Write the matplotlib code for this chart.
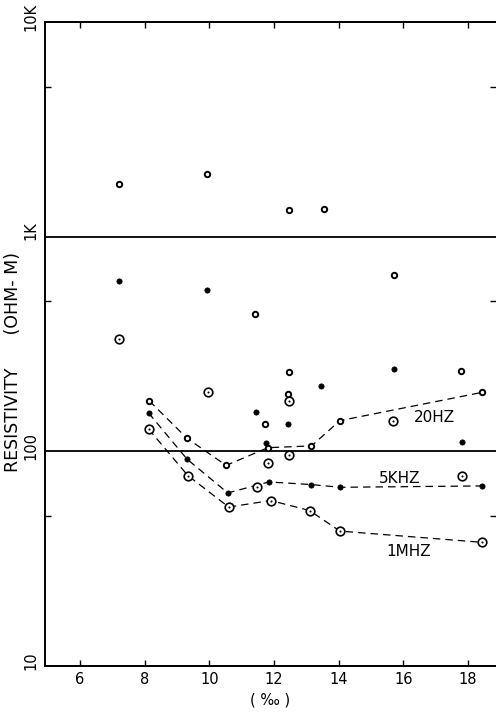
import matplotlib
matplotlib.use('Agg')
import matplotlib.pyplot as plt
from matplotlib.ticker import FixedLocator, NullFormatter
import matplotlib.transforms as mtransforms

plt.rcParams['font.family'] = ['DejaVu Sans']

# ---- data ----
# dashed-line series
x20_line = [8.14, 9.31, 10.52, 11.81, 13.16, 14.04, 18.42]
y20_line = [172, 115, 86, 104, 106, 139, 188]
x5k_line = [8.12, 9.31, 10.57, 11.84, 13.16, 14.04, 18.42]
y5k_line = [151, 92, 64, 72, 70, 68, 69]
x1m_line = [8.12, 9.34, 10.60, 11.90, 13.10, 14.04, 18.42]
y1m_line = [127, 77, 55, 59, 53, 42.5, 37.7]

# scattered points
x20_pts = [7.20, 9.94, 12.45, 13.56, 11.42, 15.70, 17.78, 12.45, 12.44, 11.73]
y20_pts = [1763, 1963, 1330, 1340, 435, 660, 236, 233, 185, 134]
x5k_pts = [7.20, 9.93, 15.72, 13.44, 11.45, 12.44, 17.81, 11.76]
y5k_pts = [623, 564, 243, 202, 153, 134, 110, 109]
x1m_pts = [7.21, 9.96, 12.45, 15.67, 11.81, 12.45, 17.81, 11.47]
y1m_pts = [332, 188, 172, 139, 88, 96, 77, 68]

series_labels = ['20HZ', '5KHZ', '1MHZ']
label_x = [16.95, 15.9, 16.15]
label_y = [143, 74.6, 34.3]

xticks = [6, 8, 10, 12, 14, 16, 18]
yticks = [10, 100, 1000, 10000]
ytick_labels = ['10', '100', '1K', '10K']
yminor = [50, 500, 5000]

# ---- figure ----
fig = plt.figure(figsize=(4.96, 7.14), dpi=100)
ax = fig.add_axes([45/496, 1-666/714, 1-45/496, (666-22)/714])
ax.set_yscale('log')
ax.set_xlim(4.917, 18.867)
ax.set_ylim(10, 10000)

dash = (6, 4)
lw = 0.9
# lines
for xs, ys in [(x20_line, y20_line), (x5k_line, y5k_line), (x1m_line, y1m_line)]:
    ax.plot(xs, ys, color='k', lw=lw, dashes=dash, zorder=2)

def open_small(xs, ys):
    ax.plot(xs, ys, ls='none', marker='o', ms=3.9, mew=1.4, mec='k', mfc='white', zorder=4)

def filled(xs, ys):
    ax.plot(xs, ys, ls='none', marker='o', ms=3.8, mew=0.5, mec='k', mfc='k', zorder=4)

def circ_dot(xs, ys):
    ax.plot(xs, ys, ls='none', marker='o', ms=6.2, mew=1.2, mec='k', mfc='white', zorder=4)
    ax.plot(xs, ys, ls='none', marker='o', ms=1.5, mew=0, mfc='k', zorder=5)

open_small(x20_line, y20_line)
open_small(x20_pts, y20_pts)
filled(x5k_line, y5k_line)
filled(x5k_pts, y5k_pts)
circ_dot(x1m_line, y1m_line)
circ_dot(x1m_pts, y1m_pts)

for t, lx, ly in zip(series_labels, label_x, label_y):
    ax.text(lx, ly, t, fontsize=11, ha='center', va='center', zorder=6)

# reference lines (grid at 100 and 1K)
ax.yaxis.set_major_locator(FixedLocator(yticks))
ax.yaxis.set_minor_locator(FixedLocator(yminor))
ax.yaxis.set_minor_formatter(NullFormatter())
ax.set_yticklabels(ytick_labels, rotation=90, fontsize=10.5, va='center')
ax.grid(axis='y', which='major', color='k', lw=1.3)

ax.set_xticks(xticks)
ax.set_xticklabels([str(v) for v in xticks], fontsize=10.5)

ax.tick_params(axis='x', which='major', direction='in', length=4, width=1,
               top=True, bottom=True, pad=4)
ax.tick_params(axis='y', which='major', length=0, pad=4.5)
ax.tick_params(axis='y', which='minor', direction='in', length=4, width=1,
               left=True, right=True)

for s in ['left', 'bottom', 'top']:
    ax.spines[s].set_linewidth(1.4)
ax.spines['right'].set_visible(False)

# small offsets of the rotated y tick labels
for lab in ax.get_yticklabels():
    lab.set_transform(lab.get_transform() +
                      mtransforms.ScaledTranslation(0, 4/72, fig.dpi_scale_trans))

ax.set_xlabel('( ‰ )', fontsize=10.5, labelpad=4)
ax.set_ylabel('RESISTIVITY      (OHM- M)', fontsize=12.5)
ax.yaxis.set_label_coords(-0.050, 0.472)

fig.savefig('out.png', dpi=100)
